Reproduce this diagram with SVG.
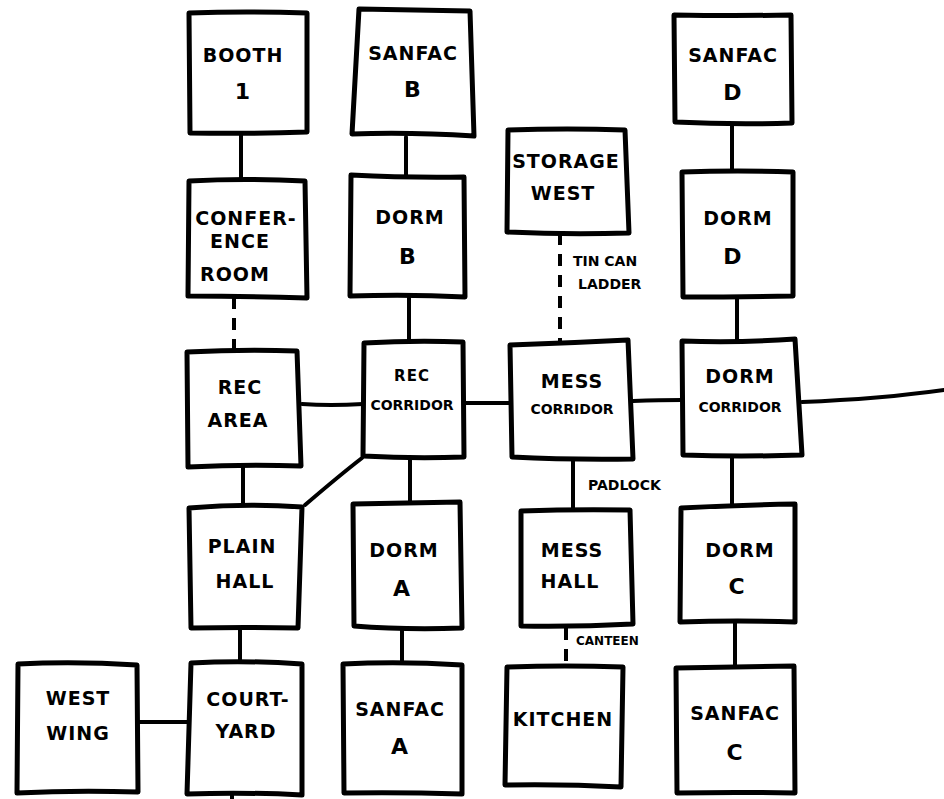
<svg xmlns="http://www.w3.org/2000/svg" width="944" height="799" viewBox="0 0 944 799">
<style>
.box{fill:#fff;stroke:#000;stroke-width:5;stroke-linejoin:round;stroke-linecap:round}
.c{fill:none;stroke:#000;stroke-width:4;stroke-linecap:round}
.d{fill:none;stroke:#000;stroke-width:4;stroke-dasharray:12 9}
.t{font-family:"DejaVu Sans","Liberation Sans",sans-serif;font-weight:bold;font-size:19px;text-anchor:middle;fill:#000;letter-spacing:1px}
.s{font-size:14px;letter-spacing:0}
.b{font-size:22px}
.l{font-family:"DejaVu Sans","Liberation Sans",sans-serif;font-weight:bold;font-size:14px;fill:#000}
</style>
<rect width="944" height="799" fill="#fff"/>
<g id="connectors">
<path class="c" d="M241 133 V181"/>
<path class="c" d="M406 137 V175"/>
<path class="d" d="M234 297 V352"/>
<path class="c" d="M409 297 V342"/>
<path class="c" d="M302 404 Q330 406 363 404"/>
<path class="c" d="M463 403 H510"/>
<path class="c" d="M633 401 Q660 400 682 400"/>
<path class="c" d="M802 402 Q880 399 944 390"/>
<path class="d" d="M560 233 V345"/>
<path class="c" d="M732 123 V172"/>
<path class="c" d="M737 297 V340"/>
<path class="c" d="M243 467 V507"/>
<path class="c" d="M362 458 Q340 475 305 505"/>
<path class="c" d="M410 458 V502"/>
<path class="c" d="M573 460 V510"/>
<path class="c" d="M732 457 V507"/>
<path class="c" d="M240 628 V662"/>
<path class="c" d="M402 630 V663"/>
<path class="d" d="M566 628 V667"/>
<path class="c" d="M735 622 V667"/>
<path class="c" d="M138 722 H190"/>
<path class="c" d="M232 795 V799"/>
<text class="l" x="573" y="266">TIN CAN</text>
<text class="l" x="578" y="289">LADDER</text>
<text class="l" x="588" y="490">PADLOCK</text>
<text class="l" x="576" y="645" style="font-size:12px">CANTEEN</text>
</g>
<g id="booth1"><path class="box" d="M189 13 Q245 11 307 13 L307 132 Q250 134 190 133 Z"/><text class="t" x="243" y="62">BOOTH</text><text class="t b" x="243" y="99">1</text></g>
<g id="sanfacB"><path class="box" d="M359 9 Q415 10 470 11 L474 136 Q410 132 352 134 Z"/><text class="t" x="413" y="60">SANFAC</text><text class="t b" x="413" y="97">B</text></g>
<g id="sanfacD"><path class="box" d="M674 15 Q735 16 791 15 L792 123 Q735 125 675 122 Z"/><text class="t" x="733" y="62">SANFAC</text><text class="t b" x="733" y="100">D</text></g>
<g id="storageWest"><path class="box" d="M508 130 Q568 128 625 130 L629 233 Q568 235 507 232 Z"/><text class="t" x="566" y="168">STORAGE</text><text class="t" x="563" y="200">WEST</text></g>
<g id="conference"><path class="box" d="M189 181 Q245 178 305 181 L307 298 Q245 296 188 296 Z"/><text class="t" x="246" y="225">CONFER-</text><text class="t" x="240" y="248">ENCE</text><text class="t" x="235" y="281">ROOM</text></g>
<g id="dormB"><path class="box" d="M351 175 Q410 178 464 177 L465 297 Q410 294 350 296 Z"/><text class="t" x="410" y="224">DORM</text><text class="t b" x="408" y="264">B</text></g>
<g id="dormD"><path class="box" d="M682 172 Q738 170 793 172 L793 296 Q738 297 683 297 Z"/><text class="t" x="738" y="225">DORM</text><text class="t b" x="733" y="264">D</text></g>
<g id="recArea"><path class="box" d="M187 352 Q245 349 297 351 L301 466 Q245 464 188 467 Z"/><text class="t" x="240" y="394">REC</text><text class="t" x="238" y="427">AREA</text></g>
<g id="recCorridor"><path class="box" d="M364 343 Q415 340 463 342 L464 457 Q415 459 363 456 Z"/><text class="t" x="412" y="381" style="font-size:15px">REC</text><text class="t s" x="412" y="410">CORRIDOR</text></g>
<g id="messCorridor"><path class="box" d="M510 345 Q570 343 628 340 L633 459 Q570 460 512 457 Z"/><text class="t" x="572" y="388">MESS</text><text class="t s" x="572" y="414">CORRIDOR</text></g>
<g id="dormCorridor"><path class="box" d="M682 341 Q740 343 795 339 L802 455 Q740 457 683 455 Z"/><text class="t" x="740" y="383">DORM</text><text class="t s" x="740" y="412">CORRIDOR</text></g>
<g id="plainHall"><path class="box" d="M189 508 Q245 503 302 507 L298 628 Q245 627 191 628 Z"/><text class="t" x="242" y="553">PLAIN</text><text class="t" x="245" y="588">HALL</text></g>
<g id="dormA"><path class="box" d="M353 504 Q405 503 460 502 L462 628 Q405 630 354 626 Z"/><text class="t" x="404" y="557">DORM</text><text class="t b" x="402" y="596">A</text></g>
<g id="messHall"><path class="box" d="M521 511 Q575 509 630 510 L633 624 Q575 627 521 626 Z"/><text class="t" x="572" y="557">MESS</text><text class="t" x="570" y="588">HALL</text></g>
<g id="dormC"><path class="box" d="M681 508 Q738 505 795 504 L795 622 Q738 620 680 622 Z"/><text class="t" x="740" y="557">DORM</text><text class="t b" x="737" y="594">C</text></g>
<g id="westWing"><path class="box" d="M18 664 Q75 661 137 665 L138 792 Q75 790 17 793 Z"/><text class="t" x="78" y="705">WEST</text><text class="t" x="78" y="740">WING</text></g>
<g id="courtyard"><path class="box" d="M191 663 Q245 660 302 664 L302 795 Q245 792 187 794 Z"/><text class="t" x="248" y="706">COURT-</text><text class="t" x="246" y="738">YARD</text></g>
<g id="sanfacA"><path class="box" d="M343 664 Q400 661 462 665 L462 794 Q400 792 344 793 Z"/><text class="t" x="400" y="716">SANFAC</text><text class="t b" x="400" y="754">A</text></g>
<g id="kitchen"><path class="box" d="M507 667 Q565 665 623 667 L621 787 Q565 784 505 785 Z"/><text class="t" x="563" y="726">KITCHEN</text></g>
<g id="sanfacC"><path class="box" d="M676 668 Q735 667 794 666 L795 793 Q735 792 677 793 Z"/><text class="t" x="735" y="720">SANFAC</text><text class="t b" x="735" y="760">C</text></g>
</svg>
